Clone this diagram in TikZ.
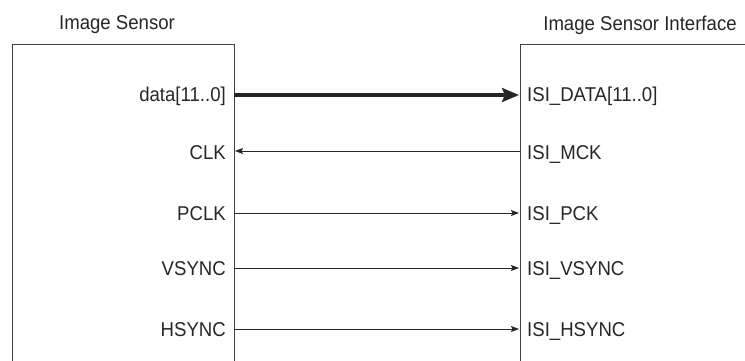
\documentclass[tikz,border=0pt]{standalone}
\usepackage{fontspec}
\setmainfont{Liberation Sans}[FakeStretch=0.93]
\usetikzlibrary{arrows.meta}
\begin{document}
\begin{tikzpicture}[x=1pt,y=-1pt,>={Stealth[length=8pt,width=6pt,inset=1.5pt]},
  lbl/.style={font=\fontsize{20}{24}\selectfont,inner sep=0pt,text=black!85},
  box/.style={draw=black!75,line width=1pt},
  sigline/.style={draw=black!85,line width=0.9pt}]
  \useasboundingbox (0,0) rectangle (745,361);
  % the two blocks, open at the bottom
  \draw[box] (12,361) -- (12,45) -- (234,45) -- (234,361);
  \draw[box] (745,45) -- (520,45) -- (520,361);
  \node[lbl] (sensor) at (117,25) {Image Sensor};
  \node[lbl] (isi) at (640,25) {Image Sensor Interface};
  % data bus
  \node[lbl,anchor=base east] (data) at (226,102) {data[11..0]};
  \node[lbl,anchor=base west] (isidata) at (527,102) {ISI\_DATA[11..0]};
  \coordinate (datao) at (234,95);
  \coordinate (datai) at (519,95);
  \draw[sigline,line width=4pt,-{Stealth[length=17pt,width=14pt,inset=3pt]}] (datao) -- (datai);
  % clock from the interface
  \node[lbl,anchor=base east] (clk) at (226,159) {CLK};
  \node[lbl,anchor=base west] (isimck) at (527,159) {ISI\_MCK};
  \coordinate (clko) at (235,151);
  \coordinate (clki) at (520,151);
  \draw[sigline,->] (clki) -- (clko);
  % sensor outputs
  \foreach \nm/\sig/\isig/\y in {pclk/PCLK/PCK/213,vsync/VSYNC/VSYNC/268,hsync/HSYNC/HSYNC/329} {
    \node[lbl,anchor=base east] (\nm) at (226,\y+7) {\sig};
    \node[lbl,anchor=base west] (isi\nm) at (527,\y+7) {ISI\_\isig};
    \coordinate (\nm o) at (234,\y);
    \coordinate (\nm i) at (519,\y);
    \draw[sigline,->] (\nm o) -- (\nm i);
  }
\end{tikzpicture}
\end{document}
